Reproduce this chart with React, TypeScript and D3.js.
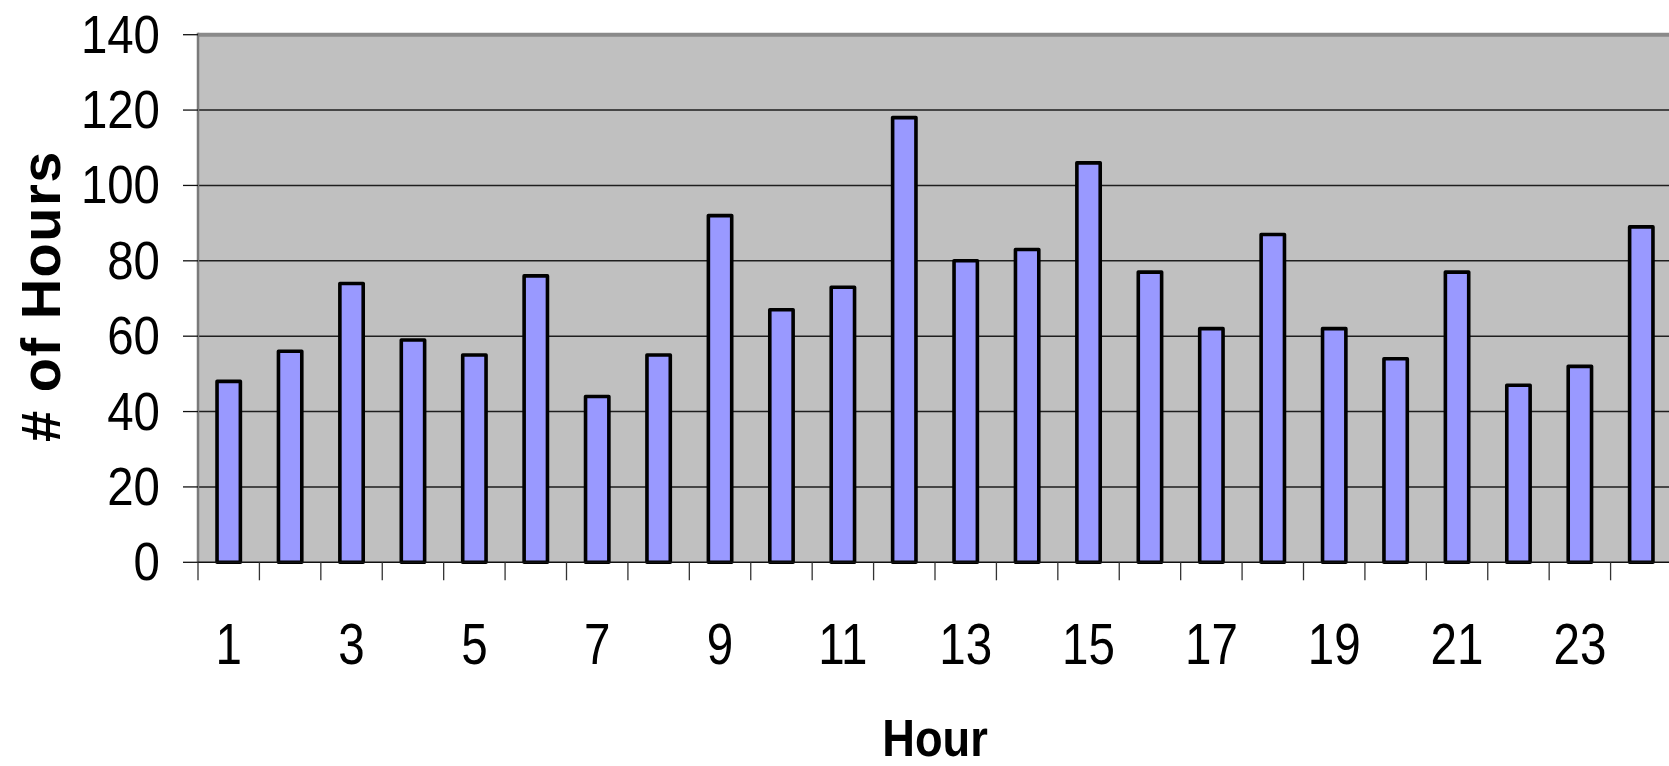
import React, { useEffect } from "react";
import * as d3 from "d3";

const hours: number[] = Array.from({ length: 24 }, (_, i) => i + 1);
const hoursCount: number[] = [48, 56, 74, 59, 55, 76, 44, 55, 92, 67, 73, 118, 80, 83, 106, 77, 62, 87, 62, 54, 77, 47, 52, 89];
const yTicks: number[] = [0, 20, 40, 60, 80, 100, 120, 140];
const xLabelHours: number[] = [1, 3, 5, 7, 9, 11, 13, 15, 17, 19, 21, 23];
const xTitle = "Hour";
const yTitle = "# of Hours";

const W = 1669;
const H = 766;
const plotLeft = 198;
const plotRight = 1672;
const plotTop = 34.7;
const plotBottom = 562.3;

export default function App() {
  useEffect(() => {
    document.body.style.margin = "0";
    document.body.style.overflow = "hidden";
  }, []);

  const x = d3.scaleBand<number>().domain(hours).range([plotLeft, plotRight]).padding(0);
  const y = d3.scaleLinear().domain([0, 140]).range([plotBottom, plotTop]);
  const bw = x.bandwidth();
  const barW = bw * 0.38;
  const font = "'Liberation Sans', Arial, sans-serif";

  return (
    <svg width={W} height={H} style={{ position: "absolute", left: 0, top: 0, display: "block" }}>
      <rect x={0} y={0} width={W} height={H} fill="#ffffff" />
      {/* plot area */}
      <rect x={plotLeft} y={plotTop} width={plotRight - plotLeft} height={plotBottom - plotTop} fill="#c0c0c0" />
      {/* gridlines */}
      {yTicks.filter((t) => t > 0 && t < 140).map((t) => (
        <line key={"g" + t} x1={plotLeft} x2={plotRight} y1={y(t)} y2={y(t)} stroke="#1e1e1e" strokeWidth={1.4} />
      ))}
      {/* top border */}
      <line x1={plotLeft} x2={plotRight} y1={plotTop} y2={plotTop} stroke="#8a8a8a" strokeWidth={4} />
      {/* bars */}
      {hours.map((h, i) => (
        <rect
          key={"b" + h}
          x={(x(h) as number) + (bw - barW) / 2}
          y={y(hoursCount[i])}
          width={barW}
          height={y(0) - y(hoursCount[i])}
          fill="#9999ff"
          stroke="#000000"
          strokeWidth={3.6}
          strokeLinejoin="round"
        />
      ))}
      {/* left axis */}
      <line x1={plotLeft} x2={plotLeft} y1={plotTop - 2} y2={plotBottom} stroke="#7a7a7a" strokeWidth={2.5} />
      {/* bottom axis */}
      <line x1={plotLeft} x2={plotRight} y1={plotBottom} y2={plotBottom} stroke="#111" strokeWidth={1.6} />
      {/* y ticks */}
      {yTicks.map((t) => (
        <g key={"yt" + t}>
          <line x1={plotLeft - 15} x2={plotLeft} y1={y(t)} y2={y(t)} stroke="#111" strokeWidth={1.3} />
          <text
            transform={`translate(160, ${y(t) + 18}) scale(0.87, 1)`}
            textAnchor="end"
            fontFamily={font}
            fontSize={54.5}
            fill="#000"
          >
            {t}
          </text>
        </g>
      ))}
      {/* x ticks */}
      {hours.map((h) => (
        <line
          key={"xt" + h}
          x1={x(h) as number}
          x2={x(h) as number}
          y1={plotBottom}
          y2={plotBottom + 18}
          stroke="#333"
          strokeWidth={1.3}
        />
      ))}
      {/* x labels */}
      {xLabelHours.map((h) => (
        <text
          key={"xl" + h}
          transform={`translate(${(x(h) as number) + bw / 2}, 663.5) scale(0.82, 1)`}
          textAnchor="middle"
          fontFamily={font}
          fontSize={58}
          fill="#000"
        >
          {h}
        </text>
      ))}
      {/* axis titles */}
      <text
        transform={`translate(${(plotLeft + plotRight) / 2}, 756) scale(0.87, 1)`}
        textAnchor="middle"
        fontFamily={font}
        fontWeight="bold"
        fontSize={52}
        fill="#000"
      >
        {xTitle}
      </text>
      <text
        transform={`translate(60, 296) rotate(-90)`}
        textAnchor="middle"
        fontFamily={font}
        fontWeight="bold"
        fontSize={56}
        letterSpacing={1.5}
        fill="#000"
      >
        {yTitle}
      </text>
    </svg>
  );
}
